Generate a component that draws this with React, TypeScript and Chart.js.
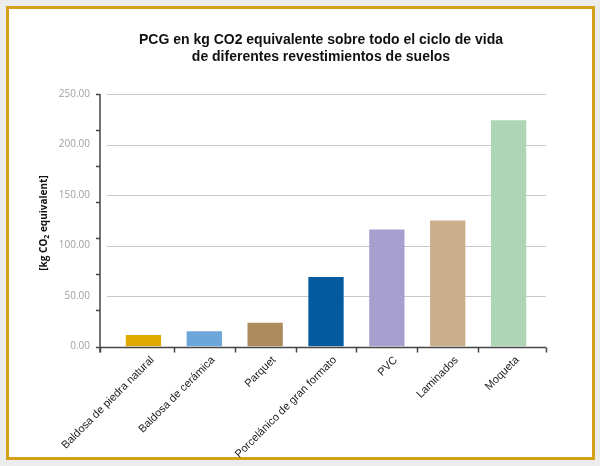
import React, { useEffect, useRef } from 'react';
import { Chart, registerables } from 'chart.js';

Chart.register(...registerables);

const categories = [
  'Baldosa de piedra natural',
  'Baldosa de cerámica',
  'Parquet',
  'Porcelánico de gran formato',
  'PVC',
  'Laminados',
  'Moqueta',
];
const values = [11.4, 15.1, 23.6, 68.7, 115.8, 124.7, 224.0];
const barColors = ['#e0a800', '#6ca6da', '#ad8a5e', '#035a9e', '#a79fd0', '#cbae8c', '#aed6b4'];
const yTicks = [0, 50, 100, 150, 200, 250];
const titleLines = [
  'PCG en kg CO2 equivalente sobre todo el ciclo de vida',
  'de diferentes revestimientos de suelos',
];
const yTitleParts = ['[kg CO', '2', ' equivalent]'];

const W = 600;
const H = 466;

export default function App() {
  const ref = useRef<HTMLCanvasElement | null>(null);

  useEffect(() => {
    if (!ref.current) return;

    const deco = {
      id: 'deco',
      beforeDraw(chart: any) {
        const ctx = chart.ctx;
        ctx.save();
        ctx.fillStyle = '#ececec';
        ctx.fillRect(0, 0, W, H);
        ctx.fillStyle = '#ffffff';
        ctx.fillRect(9, 9, 583, 448);
        ctx.strokeStyle = '#d4a017';
        ctx.lineWidth = 3;
        ctx.strokeRect(7.5, 7.5, 586, 451);
        ctx.restore();
      },
      beforeDatasetsDraw(chart: any) {
        const ctx = chart.ctx;
        const ys = chart.scales.y;
        const area = chart.chartArea;
        ctx.save();
        ctx.strokeStyle = '#c8c8c8';
        ctx.lineWidth = 1;
        yTicks.forEach((v) => {
          if (v === 0) return;
          const py = Math.round(ys.getPixelForValue(v)) + 0.5;
          ctx.beginPath();
          ctx.moveTo(area.left - 6, py);
          ctx.lineTo(area.right + 7, py);
          ctx.stroke();
        });
        ctx.restore();
      },
      afterDatasetsDraw(chart: any) {
        const ctx = chart.ctx;
        const ys = chart.scales.y;
        const xs = chart.scales.x;
        const area = chart.chartArea;
        const axX = area.left - 13;
        const axR = area.right + 7;
        const y0 = Math.round(ys.getPixelForValue(0)) + 0.5;
        const yTop = ys.getPixelForValue(250);
        ctx.save();
        ctx.strokeStyle = '#454545';
        ctx.lineWidth = 1.5;
        // y axis line
        ctx.beginPath();
        ctx.moveTo(axX, yTop);
        ctx.lineTo(axX, y0 + 5);
        ctx.stroke();
        // y minor ticks
        for (let k = 0; k <= 7; k++) {
          const py = Math.round(ys.getPixelForValue((250 * k) / 7)) + 0.5;
          ctx.beginPath();
          ctx.moveTo(axX - 4, py);
          ctx.lineTo(axX, py);
          ctx.stroke();
        }
        // x axis line
        ctx.beginPath();
        ctx.moveTo(axX, y0);
        ctx.lineTo(axR, y0);
        ctx.stroke();
        // x ticks
        const xt: number[] = [axX];
        for (let i = 1; i < categories.length; i++) {
          xt.push((xs.getPixelForValue(i - 1) + xs.getPixelForValue(i)) / 2);
        }
        xt.push(axR);
        xt.forEach((px) => {
          const p = Math.round(px) + 0.5;
          ctx.beginPath();
          ctx.moveTo(p, y0);
          ctx.lineTo(p, y0 + 5);
          ctx.stroke();
        });
        // y tick labels
        ctx.fillStyle = '#a0a0a0';
        ctx.font = '10px "Open Sans"';
        ctx.textAlign = 'right';
        ctx.textBaseline = 'middle';
        yTicks.forEach((v) => {
          ctx.fillText(v.toFixed(2), axX - 10, ys.getPixelForValue(v));
        });
        // x category labels (rotated)
        ctx.fillStyle = '#1a1a1a';
        ctx.font = '11px "Liberation Sans"';
        ctx.textAlign = 'right';
        ctx.textBaseline = 'top';
        categories.forEach((label, i) => {
          const px = xs.getPixelForValue(i) + 5;
          ctx.save();
          ctx.translate(px, y0 + 7);
          ctx.rotate(-Math.PI / 4);
          ctx.fillText(label, 0, 0);
          ctx.restore();
        });
        ctx.restore();
      },
      afterDraw(chart: any) {
        const ctx = chart.ctx;
        ctx.save();
        // title
        ctx.fillStyle = '#111111';
        ctx.font = 'bold 14px "Liberation Sans"';
        ctx.textAlign = 'center';
        ctx.textBaseline = 'middle';
        ctx.fillText(titleLines[0], 321, 40);
        ctx.fillText(titleLines[1], 321, 57);
        // y axis title
        ctx.translate(43, 223);
        ctx.rotate(-Math.PI / 2);
        const mainFont = 'bold 10px "Open Sans"';
        const subFont = 'bold 7px "Open Sans"';
        ctx.font = mainFont;
        const w1 = ctx.measureText(yTitleParts[0]).width;
        const w3 = ctx.measureText(yTitleParts[2]).width;
        ctx.font = subFont;
        const w2 = ctx.measureText(yTitleParts[1]).width;
        const total = w1 + w2 + w3;
        let x = -total / 2;
        ctx.textAlign = 'left';
        ctx.textBaseline = 'alphabetic';
        ctx.fillStyle = '#111111';
        ctx.font = mainFont;
        ctx.fillText(yTitleParts[0], x, 3.5);
        x += w1;
        ctx.font = subFont;
        ctx.fillText(yTitleParts[1], x, 6);
        x += w2;
        ctx.font = mainFont;
        ctx.fillText(yTitleParts[2], x, 3.5);
        ctx.restore();
      },
    };

    const chart = new Chart(ref.current, {
      type: 'bar',
      data: {
        labels: categories,
        datasets: [
          {
            data: values,
            backgroundColor: barColors,
            borderWidth: 0,
            barPercentage: 0.58,
            categoryPercentage: 1,
          },
        ],
      },
      options: {
        responsive: false,
        animation: false,
        devicePixelRatio: 1,
        layout: { padding: { left: 113, right: 61, top: 94, bottom: 0 } },
        plugins: {
          legend: { display: false },
          tooltip: { enabled: false },
          title: { display: false },
        },
        scales: {
          x: {
            type: 'category',
            offset: true,
            grid: { display: false, drawTicks: false },
            border: { display: false },
            ticks: { display: false },
            afterFit: (s: any) => {
              s.height = H - 346.5;
            },
          },
          y: {
            display: false,
            min: 0,
            max: 250,
          },
        },
      },
      plugins: [deco],
    } as any);

    return () => {
      chart.destroy();
    };
  }, []);

  return (
    <div style={{ position: 'fixed', left: 0, top: 0, width: W, height: H }}>
      <canvas ref={ref} width={W} height={H} style={{ display: 'block', width: W, height: H }} />
    </div>
  );
}
